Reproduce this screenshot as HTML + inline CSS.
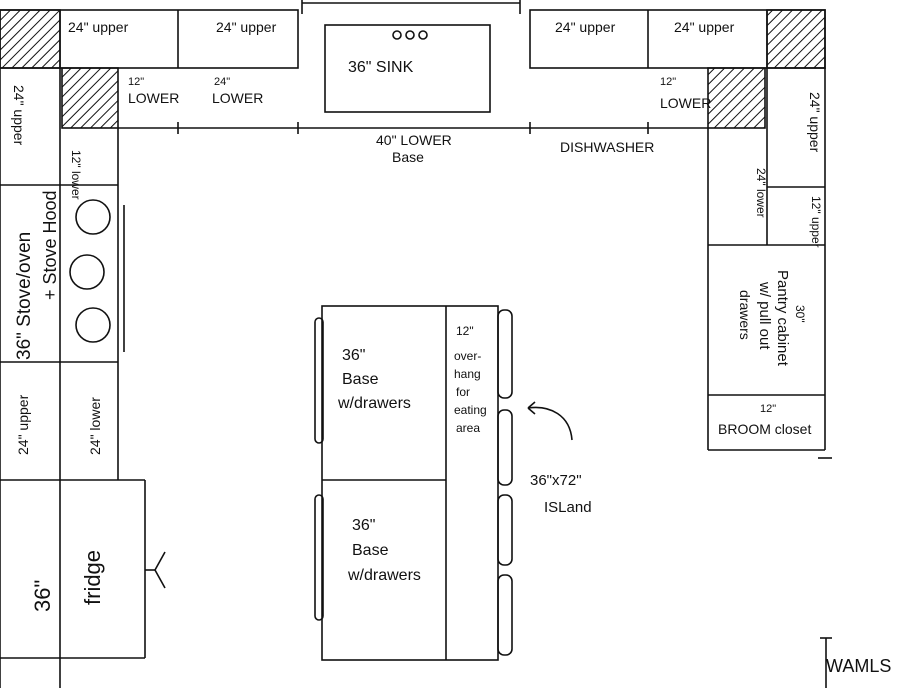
<!DOCTYPE html>
<html><head><style>
body{margin:0;background:#fff;width:904px;height:688px;overflow:hidden}
svg{display:block}
text{font-family:"Liberation Sans",sans-serif;fill:#111}
</style></head><body>
<svg width="904" height="688" viewBox="0 0 904 688">
<defs>
<pattern id="h" width="7" height="7" patternUnits="userSpaceOnUse" patternTransform="rotate(45)">
<line x1="0" y1="0" x2="0" y2="7" stroke="#111" stroke-width="2"/></pattern>
</defs>
<g stroke="#111" stroke-width="1.6" fill="none">
<line x1="302" y1="0" x2="302" y2="14"/><line x1="520" y1="0" x2="520" y2="14"/>
<line x1="302" y1="3" x2="520" y2="3"/>
<rect x="0" y="10" width="298" height="58"/>
<line x1="60" y1="10" x2="60" y2="68"/><line x1="178" y1="10" x2="178" y2="68"/>
<rect x="0" y="10" width="60" height="58" fill="url(#h)"/>
<rect x="530" y="10" width="295" height="58"/>
<line x1="648" y1="10" x2="648" y2="68"/><line x1="767" y1="10" x2="767" y2="68"/>
<rect x="767" y="10" width="58" height="58" fill="url(#h)"/>
<rect x="325" y="25" width="165" height="87"/>
<circle cx="397" cy="35" r="4"/><circle cx="410" cy="35" r="4"/><circle cx="423" cy="35" r="4"/>
<line x1="118" y1="128" x2="708" y2="128"/>
<rect x="62" y="68" width="56" height="60" fill="url(#h)"/>
<rect x="708" y="68" width="57" height="60" fill="url(#h)"/>
<line x1="178" y1="122" x2="178" y2="134"/><line x1="298" y1="122" x2="298" y2="134"/>
<line x1="530" y1="122" x2="530" y2="134"/><line x1="648" y1="122" x2="648" y2="134"/>
<line x1="0" y1="68" x2="0" y2="688"/>
<line x1="60" y1="68" x2="60" y2="688"/>
<line x1="118" y1="128" x2="118" y2="480"/>
<line x1="0" y1="185" x2="118" y2="185"/>
<line x1="0" y1="362" x2="118" y2="362"/>
<line x1="0" y1="480" x2="145" y2="480"/>
<line x1="0" y1="658" x2="145" y2="658"/>
<line x1="145" y1="480" x2="145" y2="658"/>
<line x1="124" y1="205" x2="124" y2="352"/>
<circle cx="93" cy="217" r="17"/><circle cx="87" cy="272" r="17"/><circle cx="93" cy="325" r="17"/>
<line x1="145" y1="570" x2="155" y2="570"/><path d="M155 570 L165 552 M155 570 L165 588"/>
<line x1="708" y1="128" x2="708" y2="450"/>
<line x1="825" y1="68" x2="825" y2="450"/>
<line x1="767" y1="68" x2="767" y2="245"/>
<line x1="708" y1="245" x2="825" y2="245"/>
<line x1="767" y1="187" x2="825" y2="187"/>
<line x1="708" y1="395" x2="825" y2="395"/>
<line x1="708" y1="450" x2="825" y2="450"/>
<line x1="818" y1="458" x2="832" y2="458"/>
<line x1="826" y1="638" x2="826" y2="688"/><line x1="820" y1="638" x2="832" y2="638"/>
<rect x="322" y="306" width="176" height="354"/>
<line x1="446" y1="306" x2="446" y2="660"/>
<line x1="322" y1="480" x2="446" y2="480"/>
<rect x="315" y="318" width="8" height="125" rx="4"/>
<rect x="315" y="495" width="8" height="125" rx="4"/>
<rect x="498" y="310" width="14" height="88" rx="6"/>
<rect x="498" y="410" width="14" height="75" rx="6"/>
<rect x="498" y="495" width="14" height="70" rx="6"/>
<rect x="498" y="575" width="14" height="80" rx="6"/>
<path d="M572 440 C570 415 550 405 528 408 M528 408 L535 402 M528 408 L535 414"/>
</g>
<g font-size="14">
<text x="68" y="32">24" upper</text>
<text x="216" y="32">24" upper</text>
<text x="555" y="32">24" upper</text>
<text x="674" y="32">24" upper</text>
<text x="348" y="72" font-size="16">36" SINK</text>
<text x="128" y="85" font-size="11">12"</text><text x="128" y="103">LOWER</text>
<text x="214" y="85" font-size="11">24"</text><text x="212" y="103">LOWER</text>
<text x="660" y="85" font-size="11">12"</text><text x="660" y="108">LOWER</text>
<text x="376" y="145">40" LOWER</text><text x="392" y="162">Base</text>
<text x="560" y="152">DISHWASHER</text>
<text x="530" y="485" font-size="15">36"x72"</text><text x="544" y="512" font-size="15">ISLand</text>
<text x="718" y="434">BROOM closet</text>
<text x="760" y="412" font-size="11">12"</text>
<text x="826" y="672" font-size="18" fill="#555">WAMLS</text>
<text x="456" y="335" font-size="12">12"</text>
<text x="454" y="360" font-size="12">over-</text><text x="454" y="378" font-size="12">hang</text>
<text x="456" y="396" font-size="12">for</text><text x="454" y="414" font-size="12">eating</text><text x="456" y="432" font-size="12">area</text>
<text x="342" y="360" font-size="16">36"</text><text x="342" y="384" font-size="16">Base</text><text x="338" y="408" font-size="16">w/drawers</text>
<text x="352" y="530" font-size="16">36"</text><text x="352" y="555" font-size="16">Base</text><text x="348" y="580" font-size="16">w/drawers</text>
</g>
<g font-size="14">
<text transform="translate(14,85) rotate(90)">24" upper</text>
<text transform="translate(72,150) rotate(90)" font-size="12">12" lower</text>
<text transform="translate(30,360) rotate(-90)" font-size="19">36" Stove/oven</text>
<text transform="translate(56,300) rotate(-90)" font-size="18">+ Stove Hood</text>
<text transform="translate(28,455) rotate(-90)">24" upper</text>
<text transform="translate(100,455) rotate(-90)">24" lower</text>
<text transform="translate(50,612) rotate(-90)" font-size="22">36"</text>
<text transform="translate(100,605) rotate(-90)" font-size="22">fridge</text>
<text transform="translate(810,92) rotate(90)">24" upper</text>
<text transform="translate(757,168) rotate(90)" font-size="12">24" lower</text>
<text transform="translate(812,196) rotate(90)" font-size="12">12" upper</text>
<text transform="translate(778,270) rotate(90)" font-size="15">Pantry cabinet</text>
<text transform="translate(760,282) rotate(90)" font-size="15">w/ pull out</text>
<text transform="translate(740,290) rotate(90)" font-size="14">drawers</text>
<text transform="translate(796,305) rotate(90)" font-size="12">30"</text>
</g>
</svg>
</body></html>
